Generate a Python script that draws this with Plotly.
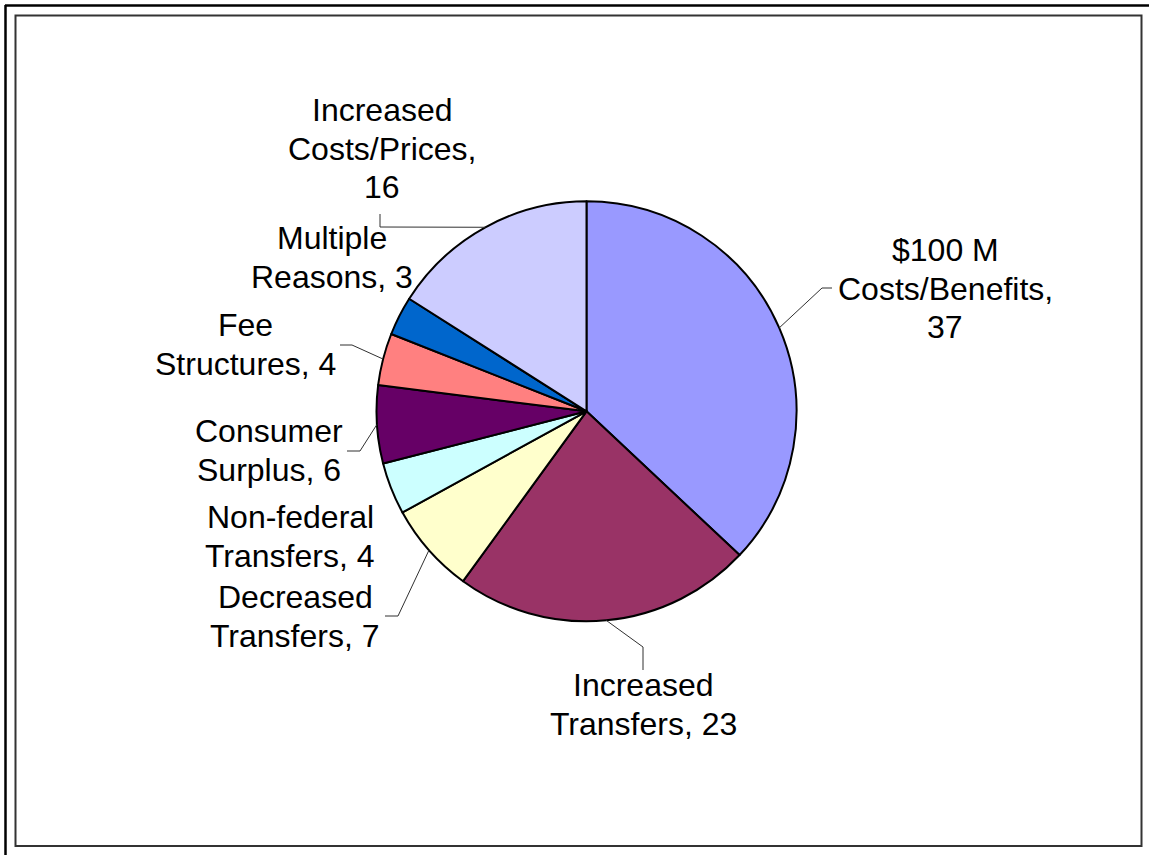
import math
import plotly.graph_objects as go

# ---------------- data ----------------
categories = ["$100 M Costs/Benefits", "Increased Transfers", "Decreased Transfers",
              "Non-federal Transfers", "Consumer Surplus", "Fee Structures",
              "Multiple Reasons", "Increased Costs/Prices"]
values = [37, 23, 7, 4, 6, 4, 3, 16]
slice_colors = ["#9999FF", "#993366", "#FFFFCC", "#CCFFFF", "#660066", "#FF8080",
                "#0066CC", "#CCCCFF"]
# how each label is wrapped ({v} = value)
label_wrap = [["$100 M", "Costs/Benefits,", "{v}"],
              ["Increased", "Transfers, {v}"],
              ["Decreased", "Transfers, {v}"],
              ["Non-federal", "Transfers, {v}"],
              ["Consumer", "Surplus, {v}"],
              ["Fee", "Structures, {v}"],
              ["Multiple", "Reasons, {v}"],
              ["Increased", "Costs/Prices,", "{v}"]]

# ---------------- layout (pixels) ----------------
W, H = 1149, 855
CX, CY, R = 586.5, 411.3, 210.0
FONT = "Liberation Sans, Arial, sans-serif"
FS = 32
LINE_H = 38.5
# label first-line centre (px)
label_pos = [(945, 250), (643, 685), (295, 597), (290, 517), (269, 431),
             (245, 325), (332, 238), (382, 110)]
# leader line elbow & end points (px); None = no leader
leader_pts = [[(822, 288), (832, 288)],
              [(643, 647), (643, 670)],
              [(398, 616), (385, 616)],
              None,
              [(360, 451), (347, 451)],
              [(352, 345), (340, 345)],
              None,
              [(380, 227), (380, 214)]]


def px(x):
    return x / W


def py(y):
    return 1 - y / H


fig = go.Figure(go.Pie(
    labels=categories, values=values, sort=False, direction="clockwise",
    rotation=0, textinfo="none", hoverinfo="label+value",
    marker=dict(colors=slice_colors, line=dict(color="black", width=2)),
    domain=dict(x=[px(CX - R), px(CX + R)], y=[py(CY + R), py(CY - R)]),
    showlegend=False,
))

annotations = []
shapes = []
total = sum(values)
cum = 0
for i, v in enumerate(values):
    mid = (cum + v / 2) / total * 2 * math.pi
    cum += v
    # label lines
    lx, ly = label_pos[i]
    for k, line in enumerate(label_wrap[i]):
        annotations.append(dict(
            x=px(lx), y=py(ly + k * LINE_H), xref="paper", yref="paper",
            text=line.format(v=v), showarrow=False, xanchor="center", yanchor="middle",
            font=dict(family=FONT, size=FS, color="black")))
    # leader line from slice edge (mid-angle)
    if leader_pts[i] is not None:
        sx = CX + R * math.sin(mid)
        sy = CY - R * math.cos(mid)
        pts = [(sx, sy)] + leader_pts[i]
        path = "M " + " L ".join(f"{px(a)},{py(b)}" for a, b in pts)
        shapes.append(dict(type="path", xref="paper", yref="paper", path=path,
                           line=dict(color="#303030", width=1)))

# frames
shapes.append(dict(type="line", xref="paper", yref="paper", x0=px(5), x1=1, y0=py(5.5), y1=py(5.5),
                   line=dict(color="black", width=2.5)))
shapes.append(dict(type="line", xref="paper", yref="paper", x0=px(5.5), x1=px(5.5), y0=py(5), y1=0,
                   line=dict(color="black", width=2.5)))
shapes.append(dict(type="rect", xref="paper", yref="paper", x0=px(15.5), x1=px(1141.5),
                   y0=py(846), y1=py(15.5), line=dict(color="#333333", width=2)))

fig.update_layout(width=W, height=H, margin=dict(l=0, r=0, t=0, b=0),
                  paper_bgcolor="white", plot_bgcolor="white",
                  annotations=annotations, shapes=shapes)

fig.write_html("out.html", config={"displayModeBar": False},
               post_script="document.body.style.margin='0px';document.body.style.overflow='hidden';")
